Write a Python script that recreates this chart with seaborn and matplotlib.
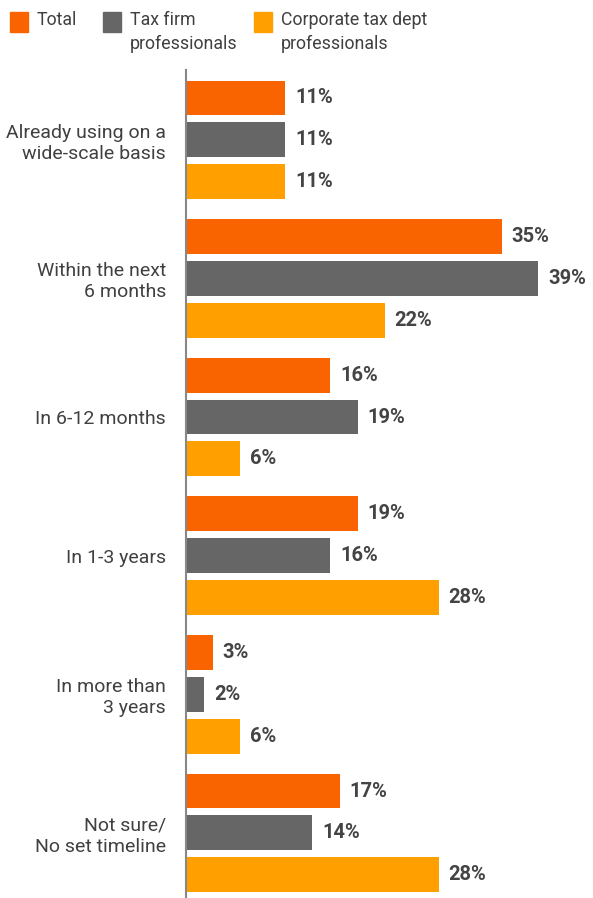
import pandas as pd
import seaborn as sns
import matplotlib.pyplot as plt
from matplotlib.patches import Rectangle

categories = [
    "Already using on a\nwide-scale basis",
    "Within the next\n6 months",
    "In 6-12 months",
    "In 1-3 years",
    "In more than\n3 years",
    "Not sure/\nNo set timeline",
]
series = ["Total", "Tax firm\nprofessionals", "Corporate tax dept\nprofessionals"]
total = [11, 35, 16, 19, 3, 17]
tax_firm = [11, 39, 19, 16, 2, 14]
corporate = [11, 22, 6, 28, 6, 28]
colors = ["#FA6400", "#666666", "#FFA000"]

df = pd.DataFrame({
    "category": categories * 3,
    "group": [series[0]] * 6 + [series[1]] * 6 + [series[2]] * 6,
    "value": total + tax_firm + corporate,
})

sns.set_style("white")
plt.rcParams["font.family"] = ["Roboto", "DejaVu Sans"]

fig = plt.figure(figsize=(5.93, 8.98), dpi=100)
ax = fig.add_axes([186 / 593, 0, 1 - 186 / 593, 1 - 70 / 898])

sns.barplot(
    data=df, x="value", y="category", hue="group",
    palette=colors, saturation=1, orient="h", width=0.906, gap=0.167,
    linewidth=0, legend=False, ax=ax,
)

for cont in ax.containers:
    ax.bar_label(cont, labels=[f"{v:.0f}%" for v in cont.datavalues],
                 padding=7, fontsize=14.5, fontweight="bold", color="#444444")

ax.set_xlim(0, 45.07)
ax.set_ylim(5.47, -0.504)
ax.set_xlabel("")
ax.set_ylabel("")
ax.set_xticks([])
ax.tick_params(axis="y", length=0, pad=14.4, labelsize=14, labelcolor="#404040")
for lab in ax.get_yticklabels():
    lab.set_linespacing(1.2)
for s in ["top", "right", "bottom"]:
    ax.spines[s].set_visible(False)
ax.spines["left"].set_color("#888888")
ax.spines["left"].set_linewidth(1.5)

# legend drawn by hand to match the top-aligned squares
leg_x = [10, 103, 254]
for name, col, x in zip(series, colors, leg_x):
    fig.patches.append(Rectangle((x / 593, 1 - 32 / 898), 18 / 593, 20 / 898,
                                 transform=fig.transFigure, color=col))
    fig.text((x + 27) / 593, 1 - 11 / 898, name, ha="left", va="top",
             fontsize=12.8, color="#404040", linespacing=1.4)

fig.savefig("out.png", dpi=100)
